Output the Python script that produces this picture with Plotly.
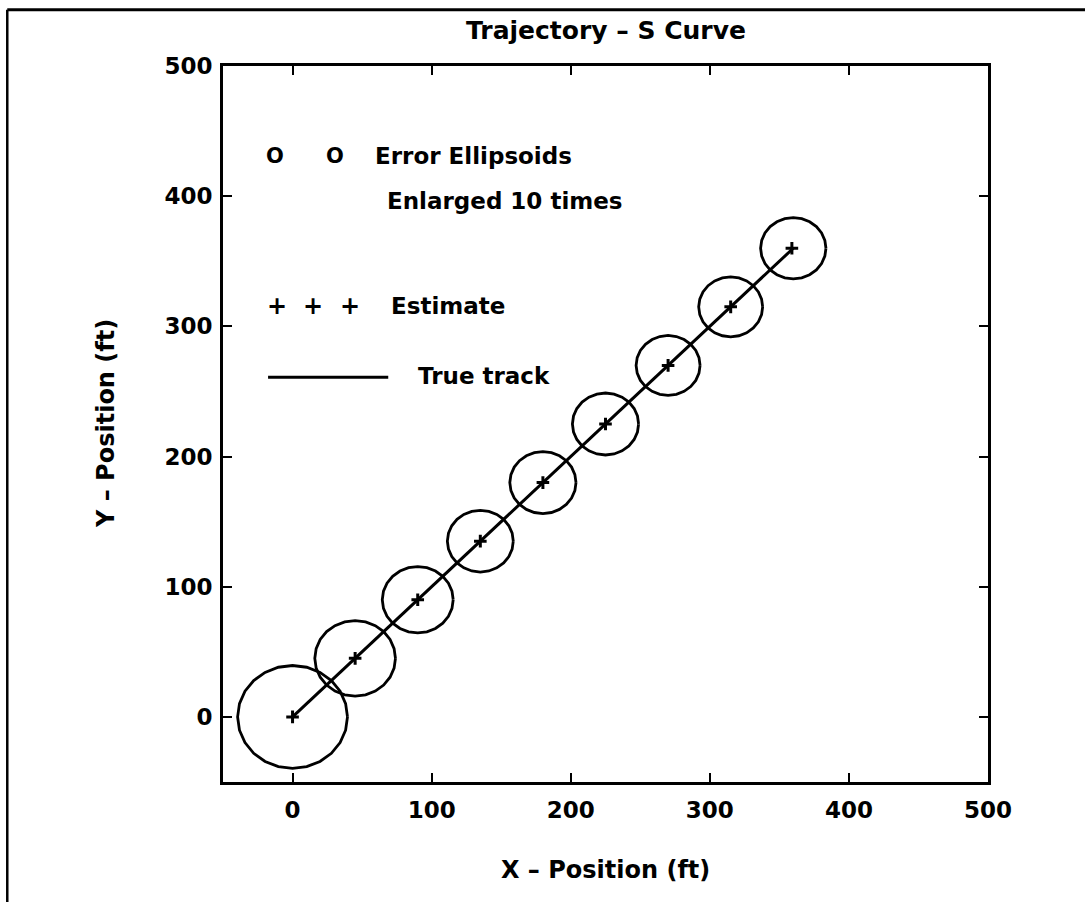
import numpy as np
import plotly.graph_objects as go

# ---------------- data ----------------
center_x = [0, 45, 90, 135, 180, 225, 270, 315, 360]
center_y = [0, 45, 90, 135, 180, 225, 270, 315, 360]
ellipse_radius = [39.5, 29, 25.5, 23.7, 23.8, 23.8, 23, 23, 23.5]  # already x10
estimate_x = [0, 45, 90, 135, 180, 225, 270, 315, 359]
estimate_y = [0, 45, 90, 135, 180, 225, 270, 315, 360]
true_x = [0, 45, 90, 135, 180, 225, 270, 315, 360]
true_y = [0, 45, 90, 135, 180, 225, 270, 315, 360]
tick_vals = [0, 100, 200, 300, 400, 500]

FONT = "DejaVu Sans"
BLACK = "#000000"

fig = go.Figure()

# error ellipses (polygonal circles around each center)
theta = np.linspace(0, 2 * np.pi, 25)
for cx, cy, r in zip(center_x, center_y, ellipse_radius):
    fig.add_trace(go.Scatter(
        x=cx + r * np.cos(theta), y=cy + r * np.sin(theta),
        mode="lines", line=dict(color=BLACK, width=2.8),
        showlegend=False, hoverinfo="skip"))

# true track
fig.add_trace(go.Scatter(x=true_x, y=true_y, mode="lines",
                         line=dict(color=BLACK, width=3), showlegend=False))

# estimates
fig.add_trace(go.Scatter(x=estimate_x, y=estimate_y, mode="markers",
                         marker=dict(symbol="cross-thin", size=9,
                                     line=dict(color=BLACK, width=3)),
                         showlegend=False))

axis_common = dict(
    showline=True, linecolor=BLACK, linewidth=3, mirror="ticks",
    ticks="inside", ticklen=9, tickwidth=2, tickcolor=BLACK,
    showgrid=False, zeroline=False, tickvals=tick_vals,
    tickfont=dict(family=FONT, size=23, color=BLACK, weight="bold"),
)
fig.update_xaxes(range=[-50, 500], ticklabelstandoff=5, **axis_common)
fig.update_yaxes(range=[-50, 500], ticklabelstandoff=3, **axis_common)

txt = dict(family=FONT, size=23, color=BLACK, weight="bold")
axt = dict(family=FONT, size=24, color=BLACK, weight="bold")
ann = []
# title and axis titles
ann.append(dict(text="Trajectory – S Curve", xref="paper", yref="paper",
                x=0.5, y=1, yanchor="middle", yshift=36, showarrow=False,
                font=dict(family=FONT, size=25, color=BLACK, weight="bold")))
ann.append(dict(text="X – Position (ft)", xref="paper", yref="paper",
                x=0.5, y=0, yanchor="middle", yshift=-88, showarrow=False, font=axt))
ann.append(dict(text="Y – Position (ft)", xref="paper", yref="paper",
                x=0, y=0.5, xanchor="center", xshift=-117, textangle=-90,
                showarrow=False, font=axt))
# in-plot legend
for xo in (-12.7, 30.4):
    ann.append(dict(text="O", x=xo, y=430.5, xref="x", yref="y",
                    showarrow=False, font=dict(family=FONT, size=21, color=BLACK, weight="bold")))
ann.append(dict(text="Error Ellipsoids", x=57.8, y=430.5, xref="x", yref="y",
                xanchor="left", showarrow=False, font=txt))
ann.append(dict(text="Enlarged 10 times", x=66.4, y=396, xref="x", yref="y",
                xanchor="left", showarrow=False, font=txt))
for xo in (-11.5, 14.8, 41.2):
    ann.append(dict(text="+", x=xo, y=316, xref="x", yref="y",
                    showarrow=False, font=dict(family=FONT, size=24, color=BLACK, weight="bold")))
ann.append(dict(text="Estimate", x=69.5, y=316, xref="x", yref="y",
                xanchor="left", showarrow=False, font=txt))
ann.append(dict(text="True track", x=88.7, y=262, xref="x", yref="y",
                xanchor="left", showarrow=False, font=txt))

shapes = [
    # legend line sample
    dict(type="line", xref="x", yref="y", x0=-17.6, x1=68.8, y0=261, y1=261,
         line=dict(color=BLACK, width=3)),
    # page frame: top and left border
    dict(type="line", xref="paper", yref="paper", x0=-0.282, x1=1.13,
         y0=1.0785, y1=1.0785, line=dict(color=BLACK, width=3)),
    dict(type="line", xref="paper", yref="paper", x0=-0.282, x1=-0.282,
         y0=1.0785, y1=-0.17, line=dict(color=BLACK, width=2.5)),
]

fig.update_layout(
    width=1085, height=902,
    margin=dict(l=223, r=97, t=66, b=120),
    paper_bgcolor="white", plot_bgcolor="white",
    annotations=ann, shapes=shapes, showlegend=False,
)

fig.write_html("out.html", config={"displayModeBar": False},
               post_script="document.body.style.margin='0';")
